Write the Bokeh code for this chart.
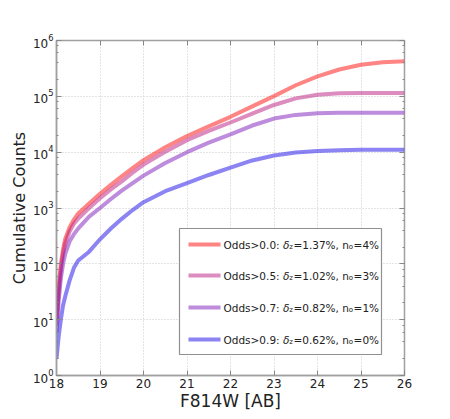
from bokeh.plotting import figure
from bokeh.models import LogAxis, LinearAxis, FixedTicker, CustomJSTickFormatter, LogTicker, Title
from bokeh.core.properties import value
from bokeh.embed import file_html
from bokeh.resources import INLINE

# ---------------- data ----------------
mag = [18.0, 18.05, 18.1, 18.15, 18.2, 18.3, 18.4, 18.5, 18.75, 19.0, 19.25, 19.5, 19.75,
       20.0, 20.5, 21.0, 21.5, 22.0, 22.5, 23.0, 23.5, 24.0, 24.5, 25.0, 25.5, 26.0]
counts_00 = [10, 40, 100, 180, 280, 450, 620, 800, 1200, 1800, 2600, 3700, 5200,
             7200, 12200, 19500, 29000, 43000, 66000, 101000, 158000, 228000, 302000,
             368000, 408000, 425000]
counts_05 = [8, 30, 80, 150, 230, 380, 520, 650, 1000, 1500, 2150, 3000, 4300,
             6000, 10200, 16400, 24000, 34000, 49000, 70000, 92000, 107000, 113000,
             115000, 115000, 115000]
counts_07 = [6, 22, 55, 100, 150, 250, 340, 430, 700, 1000, 1450, 2050, 2800,
             3800, 6400, 10000, 14800, 20800, 30000, 40000, 46500, 50000, 51000,
             51000, 51000, 51000]
counts_09 = [2, 5, 10, 18, 26, 50, 85, 115, 165, 275, 430, 640, 920,
             1270, 2000, 2800, 3900, 5300, 7100, 8700, 9900, 10500, 10800,
             11000, 11000, 11000]

series_names = ["Odds>0.0: ", "Odds>0.5: ", "Odds>0.7: ", "Odds>0.9: "]
delta_z = ["=1.37%, n", "=1.02%, n", "=0.82%, n", "=0.62%, n"]
n_o = ["=4%", "=3%", "=1%", "=0%"]
series_counts = [counts_00, counts_05, counts_07, counts_09]
colors = ["#ff0a0a", "#b9197d", "#7d19b9", "#1a0ae6"]

x_ticks = [18, 19, 20, 21, 22, 23, 24, 25, 26]

# ---------------- figure ----------------
FW, FH = 348, 335
X0, X1 = 18, 26
Y0, Y1 = 1, 1e6

p = figure(frame_width=FW, frame_height=FH, y_axis_type="log",
           x_range=(X0, X1), y_range=(Y0, Y1),
           output_backend="svg", toolbar_location=None,
           min_border_left=56, min_border_top=40, min_border_right=30, min_border_bottom=30)
p.background_fill_color = "white"
p.border_fill_color = "white"
p.outline_line_color = "#a0a0a0"
p.outline_line_width = 1.5

tick_col = "#222222"
for ax in (p.xaxis[0], p.yaxis[0]):
    ax.axis_line_color = "#a0a0a0"
    ax.axis_line_width = 1.5
    ax.major_tick_in = 5
    ax.major_tick_out = 0
    ax.minor_tick_in = 2
    ax.minor_tick_out = 0
    ax.major_tick_line_color = "#888888"
    ax.minor_tick_line_color = "#888888"
    ax.major_label_text_color = tick_col
    ax.major_label_text_font = "DejaVu Sans"
    ax.major_label_text_font_size = "12px"
    ax.axis_label_text_font = "DejaVu Sans"
    ax.axis_label_text_font_style = "normal"
    ax.axis_label_text_color = tick_col

p.xaxis.ticker = FixedTicker(ticks=x_ticks, minor_ticks=[])
p.xaxis.major_label_standoff = 3
p.xaxis.axis_label = "F814W [AB]"
p.xaxis.axis_label_text_font_size = "17px"
p.xaxis.axis_label_standoff = 0

p.yaxis.ticker = LogTicker(desired_num_ticks=7)
p.yaxis.major_label_standoff = 3

# y-axis title, a little above the centre as in the reference
ytitle = Title(text="Cumulative Counts", align="center", offset=17, standoff=2,
               text_font="DejaVu Sans", text_font_size="16px", text_font_style="normal",
               text_color=tick_col)
p.add_layout(ytitle, "left")

# mirrored ticks (top / right)
empty = CustomJSTickFormatter(code="return ''")
top = LinearAxis(ticker=FixedTicker(ticks=x_ticks, minor_ticks=[]), formatter=empty,
                 axis_line_color=None, major_tick_in=5, major_tick_out=0,
                 minor_tick_in=0, minor_tick_out=0, major_tick_line_color="#888888")
right = LogAxis(ticker=LogTicker(desired_num_ticks=7), formatter=empty,
                axis_line_color=None, major_tick_in=5, major_tick_out=0,
                minor_tick_in=2, minor_tick_out=0,
                major_tick_line_color="#888888", minor_tick_line_color="#888888")
p.add_layout(top, "above")
p.add_layout(right, "right")

p.xgrid.ticker = FixedTicker(ticks=x_ticks)
p.grid.grid_line_color = "#c8c8c8"
p.grid.grid_line_dash = "1 2"
p.grid.grid_line_width = 1

for cnt, col in zip(series_counts, colors):
    p.line(mag, cnt, line_color=col, line_width=4, line_alpha=0.5, line_join="round")


# ---------------- legend (built by hand for the subscripts) ----------------
def fx(px):
    return X0 + (X1 - X0) * px / FW


def fy(py):
    return 10 ** (6 - 6 * py / FH)


box_l, box_r, box_t, box_b = 123, 325, 188, 314
row_y = [204, 235, 267, 299]
sw_l, sw_r, txt_l = 132, 164, 167

p.quad(left=fx(box_l), right=fx(box_r), top=fy(box_t), bottom=fy(box_b),
       fill_color="white", line_color="#909090", line_width=1.2)

fs = 10.5
k = fs / 10.0
for i in range(4):
    yy = fy(row_y[i])
    p.segment(x0=fx(sw_l), x1=fx(sw_r), y0=yy, y1=yy,
              line_color=colors[i], line_width=4, line_alpha=0.5)
    common = dict(text_baseline="middle", text_align="left", text_color="#222222",
                  text_font=value("DejaVu Sans"))
    w1 = 56.6 * k
    p.text(x=[fx(txt_l)], y=[yy], text=[series_names[i]], text_font_size=f"{fs}px", **common)
    p.text(x=[fx(txt_l)], y=[yy], text=["δ"], x_offset=w1, text_font_size=f"{fs}px",
           text_font_style="italic", **common)
    p.text(x=[fx(txt_l)], y=[yy], text=["z"], x_offset=w1 + 6.0 * k, y_offset=2.5,
           text_font_size="7px", **common)
    w2 = w1 + (6.0 + 4.0) * k
    p.text(x=[fx(txt_l)], y=[yy], text=[delta_z[i]], x_offset=w2, text_font_size=f"{fs}px", **common)
    w3 = w2 + 52.8 * k
    p.text(x=[fx(txt_l)], y=[yy], text=["o"], x_offset=w3, y_offset=2.5,
           text_font_size="7px", **common)
    p.text(x=[fx(txt_l)], y=[yy], text=[n_o[i]], x_offset=w3 + 4.5 * k,
           text_font_size=f"{fs}px", **common)

open("out.html", "w").write(file_html(p, INLINE))
